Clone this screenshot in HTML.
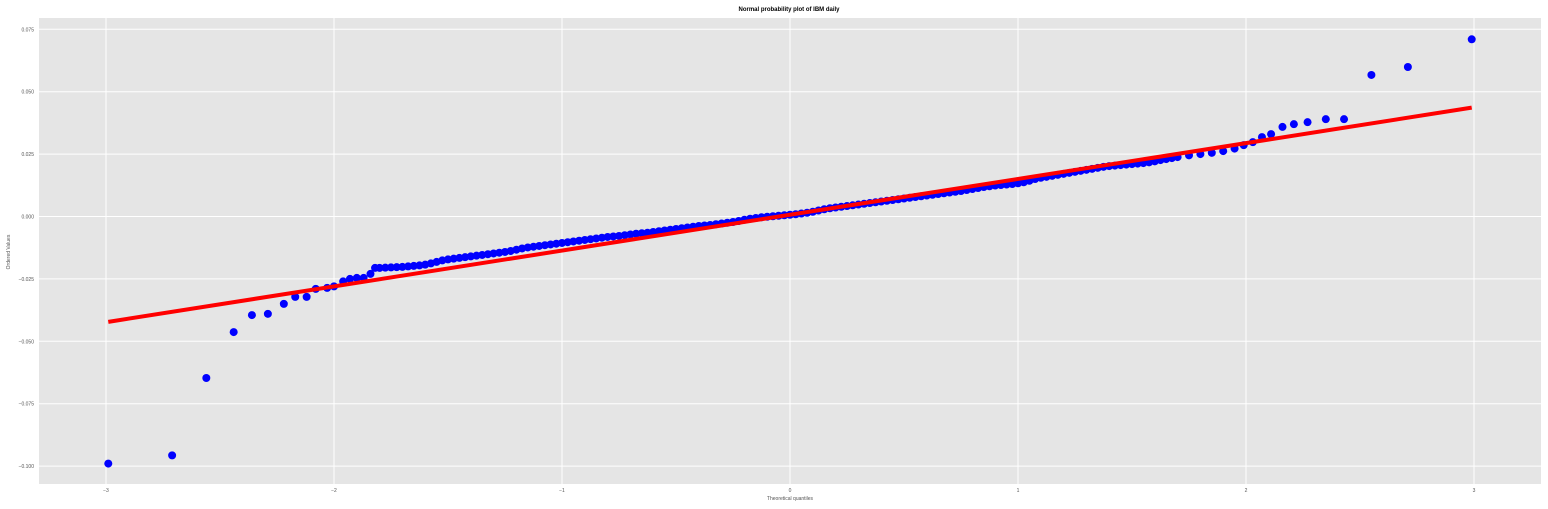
<!DOCTYPE html>
<html><head><meta charset="utf-8"><style>
body{margin:0;background:#fff;}
svg{display:block;font-family:"Liberation Sans",sans-serif;}
</style></head><body>
<svg id="chart" width="1548" height="509"></svg>
<script>
const xTicks=[-3,-2,-1,0,1,2,3];
const yTicks=[0.075,0.050,0.025,0.000,-0.025,-0.050,-0.075,-0.100];
const yTickLabels=["0.075","0.050","0.025","0.000","\u22120.025","\u22120.050","\u22120.075","\u22120.100"];
const leftTailQ=[-2.99,-2.71,-2.56,-2.44,-2.36,-2.29,-2.22,-2.17,-2.12,-2.08,-2.03,-2.0,-1.96,-1.93,-1.90,-1.87,-1.84,-1.82];
const leftTailV=[-0.099,-0.0957,-0.0647,-0.0463,-0.0395,-0.039,-0.035,-0.0322,-0.0322,-0.029,-0.0286,-0.028,-0.026,-0.025,-0.0246,-0.0246,-0.023,-0.0206];
const midStart=-1.8, midStep=0.025;
const midV=[-0.0206,-0.0205,-0.0204,-0.0203,-0.0202,-0.0200,-0.0198,-0.0196,-0.0193,-0.0188,-0.0182,-0.0176,-0.0172,-0.0169,-0.0166,-0.0163,-0.0160,-0.0157,-0.0154,-0.0151,-0.0148,-0.0145,-0.0142,-0.0138,-0.0133,-0.0128,-0.0124,-0.0121,-0.0118,-0.0115,-0.0112,-0.0109,-0.0106,-0.0103,-0.0100,-0.0097,-0.0094,-0.0091,-0.0088,-0.0085,-0.0082,-0.0080,-0.0078,-0.0075,-0.0072,-0.0069,-0.0067,-0.0065,-0.0062,-0.0059,-0.0056,-0.0053,-0.0050,-0.0047,-0.0044,-0.0041,-0.0038,-0.0036,-0.0034,-0.0031,-0.0028,-0.0025,-0.0022,-0.0018,-0.0013,-0.0009,-0.0006,-0.0003,-0.0001,0.0001,0.0003,0.0005,0.0007,0.0009,0.0012,0.0015,0.0019,0.0024,0.0029,0.0033,0.0036,0.0039,0.0042,0.0045,0.0048,0.0051,0.0054,0.0057,0.0060,0.0063,0.0066,0.0069,0.0072,0.0075,0.0078,0.0081,0.0084,0.0087,0.0090,0.0093,0.0096,0.0099,0.0102,0.0106,0.0110,0.0114,0.0118,0.0121,0.0124,0.0126,0.0128,0.0130,0.0133,0.0137,0.0143,0.0150,0.0155,0.0159,0.0163,0.0167,0.0171,0.0175,0.0179,0.0183,0.0187,0.0191,0.0195,0.0199,0.0202,0.0204,0.0206,0.0208,0.0210,0.0212,0.0214,0.0217,0.0221,0.0226,0.0230,0.0234,0.0238];
const rightTailQ=[1.75,1.80,1.85,1.90,1.95,1.99,2.03,2.07,2.11,2.16,2.21,2.27,2.35,2.43,2.55,2.71,2.99];
const rightTailV=[0.0245,0.0250,0.0255,0.0262,0.0272,0.0286,0.0298,0.0318,0.033,0.0359,0.037,0.0378,0.039,0.039,0.0567,0.0599,0.071];
const fitSlope=0.01435, fitIntercept=0.0007;
const fitRange=[-2.99,2.99];

const NS="http://www.w3.org/2000/svg";
const svg=document.getElementById('chart');
const L=39,R=1541,T=18,B=484;
const xs=q=>790+q*228;
const ys=v=>216.5-v*2496;
function mk(tag,attrs,parent){const e=document.createElementNS(NS,tag);for(const k in attrs)e.setAttribute(k,attrs[k]);(parent||svg).appendChild(e);return e;}

const bg=mk('rect',{x:L,y:T,width:R-L,height:B-T,fill:'#e5e5e5'});



const grid=mk('g',{});


xTicks.forEach(t=>{const x=xs(t);mk('line',{x1:x,x2:x,y1:T,y2:B,stroke:'#fff','stroke-width':1},grid);
 const tx=mk('text',{x:x,y:492,'font-size':5,fill:'#555','text-anchor':'middle'});tx.textContent=t<0?'\u2212'+(-t):String(t);
 
 });
yTicks.forEach((t,i)=>{const y=ys(t);mk('line',{x1:L,x2:R,y1:y,y2:y,stroke:'#fff','stroke-width':1},grid);
 const tx=mk('text',{x:34,y:y+2,'font-size':5,fill:'#555','text-anchor':'end'});tx.textContent=yTickLabels[i];
 
 });

const pts=mk('g',{fill:'#0000ff'});


function dot(q,v){const c=mk('circle',{cx:xs(q),cy:ys(v),r:4},pts);
 
 }
leftTailQ.forEach((q,i)=>dot(q,leftTailV[i]));
midV.forEach((v,i)=>dot(midStart+i*midStep,v));
rightTailQ.forEach((q,i)=>dot(q,rightTailV[i]));

const fit=mk('line',{x1:xs(fitRange[0]),y1:ys(fitIntercept+fitSlope*fitRange[0]),x2:xs(fitRange[1]),y2:ys(fitIntercept+fitSlope*fitRange[1]),stroke:'#ff0000','stroke-width':4});



const title=mk('text',{x:789,y:11,'font-size':6,'font-weight':'bold','text-anchor':'middle',fill:'#000'});
title.textContent='Normal probability plot of IBM daily';


const xl=mk('text',{x:790,y:500,'font-size':5,'text-anchor':'middle',fill:'#555'});
xl.textContent='Theoretical quantiles';


const yl=mk('text',{x:0,y:0,'font-size':5,'text-anchor':'middle',fill:'#555',transform:'translate(10,252) rotate(-90)'});
yl.textContent='Ordered Values';


</script>
</body></html>
